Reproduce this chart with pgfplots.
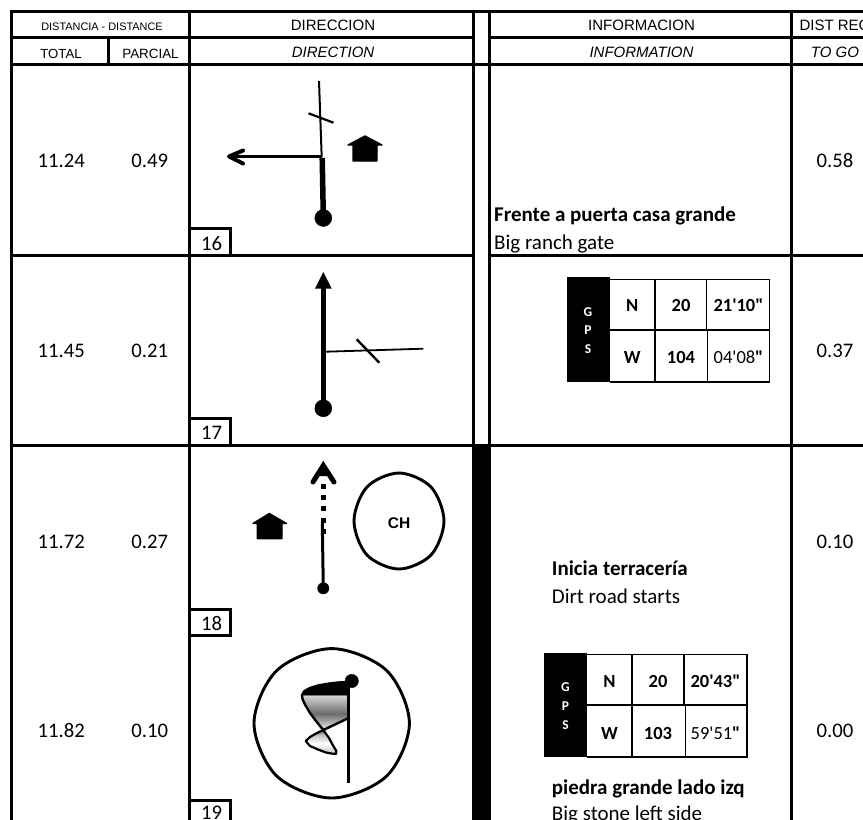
\documentclass[border=0pt]{standalone}
\usepackage{pgfplots}
\pgfplotsset{compat=1.18}
\usepackage{fontspec}
\setmainfont{Liberation Sans}
\newfontfamily\cb{Carlito}
\newcommand{\fs}[1]{\fontsize{#1}{#1}\selectfont}
\pgfdeclareverticalshading{flagA}{100bp}{
 color(0bp)=(white!94!black); color(25bp)=(white!94!black); color(42bp)=(black!58); color(61bp)=(white!84!black); color(62bp)=(black); color(100bp)=(black)}
\pgfdeclareverticalshading{flagB}{100bp}{
 color(0bp)=(black!25); color(25bp)=(black!25); color(47bp)=(white); color(65bp)=(black!25); color(75bp)=(black!65); color(100bp)=(black!65)}
\tikzset{
  gl/.style={line width=3pt},
  tbl/.style={line width=1.6pt},
  rdot/.style={only marks, mark=*, mark options={fill=black,draw=none}, mark size=#1pt},
  solidfill/.style={fill=black, draw=none},
  house/.style={fill=black, draw=black, line width=1.4pt, line join=round},
  cnum/.style={font=\cb\fs{20.7}, anchor=center, inner sep=0pt},
  hd/.style={font=\fs{15}, anchor=center, inner sep=0pt},
  hdi/.style={font=\itshape\fs{15}, anchor=center, inner sep=0pt},
  tx/.style={font=\cb\fs{21}, anchor=base west, inner sep=0pt},
  txb/.style={font=\cb\bfseries\fs{21}, anchor=base west, inner sep=0pt},
  gps/.style={font=\cb\bfseries\fs{18.5}, anchor=center, inner sep=0pt},
  gpr/.style={font=\cb\fs{18.5}, anchor=center, inner sep=0pt},
  gpl/.style={font=\cb\bfseries\fs{13.5}, text=white, anchor=center, inner sep=0pt},
}
\begin{document}
\begin{tikzpicture}
\useasboundingbox (0,0) rectangle (863pt,820pt);
\begin{axis}[
  at={(0,0)}, anchor=south west,
  scale only axis, width=863pt, height=820pt,
  xmin=0, xmax=863, ymin=0, ymax=820, y dir=reverse,
  hide axis, clip=true,
  every axis plot/.append style={black, no markers, line cap=butt},
]
% ---- black block
\addplot[solidfill] coordinates {(473,445) (490.5,445) (490.5,820) (473,820)} --cycle;
% ---- table frame
\addplot[gl] coordinates {(10,11.3) (863,11.3)};
\addplot[gl] coordinates {(10,37.5) (473,37.5)};
\addplot[gl] coordinates {(489,37.5) (863,37.5)};
\addplot[gl] coordinates {(10,64) (863,64)};
\addplot[gl] coordinates {(10,255.7) (473,255.7)};
\addplot[gl] coordinates {(489,255.7) (863,255.7)};
\addplot[gl] coordinates {(10,445.5) (863,445.5)};
\addplot[gl] coordinates {(11.3,10) (11.3,820)};
\addplot[gl] coordinates {(108.7,37.5) (108.7,64)};
\addplot[gl] coordinates {(189.7,10) (189.7,820)};
\addplot[gl] coordinates {(473.7,10) (473.7,820)};
\addplot[gl] coordinates {(489.3,10) (489.3,820)};
\addplot[gl] coordinates {(791.3,10) (791.3,820)};
% ---- step number boxes
\addplot[gl, line join=miter] coordinates {(189.7,228) (230.7,228) (230.7,255.7)};
\addplot[gl, line join=miter] coordinates {(189.7,418.5) (230.7,418.5) (230.7,445.5)};
\addplot[gl, line join=miter] coordinates {(189.7,609) (230.7,609) (230.7,635.5) (189.7,635.5)};
\addplot[gl, line join=miter] coordinates {(189.7,800) (230.7,800) (230.7,820)};
% ---- step 16
\addplot[line width=2pt] coordinates {(319,81) (321.7,157)};
\addplot[line width=2.2pt] coordinates {(308.5,113.3) (333.5,122.7)};
\addplot[line width=3.3pt] coordinates {(322,156.2) (231,156.2)};
\addplot[line width=4pt, line cap=round, line join=round] coordinates {(243,150.5) (229,156.5) (243,163.5)};
\addplot[line width=5.5pt] coordinates {(322.2,158) (323.3,215)};
\addplot[rdot=8.5] coordinates {(323.3,218)};
\addplot[house] coordinates {(365,136) (382,145) (377,145) (377,161) (353,161) (353,145) (348,145)} --cycle;
% ---- step 17
\addplot[line width=5.3pt] coordinates {(323.3,288) (323.3,405)};
\addplot[solidfill] coordinates {(323.3,272) (331.7,288.5) (315,288.5)} --cycle;
\addplot[rdot=8.5] coordinates {(323.3,408.3)};
\addplot[line width=1.8pt] coordinates {(326,351.7) (423.3,348.7)};
\addplot[line width=2.4pt] coordinates {(356.7,339.3) (379.3,362.7)};
% ---- step 18
\addplot[line width=5.5pt] coordinates {(323.3,483.5) (323.3,488.5)};
\addplot[line width=5.5pt] coordinates {(323.3,494.5) (323.3,500)};
\addplot[line width=5.5pt] coordinates {(323.3,506) (323.3,511)};
\addplot[line width=5.5pt] coordinates {(323.3,517.5) (323.3,522.5)};
\addplot[line width=5.5pt] coordinates {(323.3,528.5) (323.3,533.5)};
\addplot[line width=3pt] coordinates {(322.3,523) (323.3,588)};
\addplot[rdot=5.7] coordinates {(323.3,588.3)};
\addplot[line width=5pt, line cap=round, line join=miter] coordinates {(313,482) (323.3,465.5) (334,482)};
\addplot[solidfill] coordinates {(323.3,461.5) (330.5,476) (316,476)} --cycle;
\addplot[house] coordinates {(269.3,513.5) (286.5,523.5) (282,523.5) (282,538.6) (257.4,538.6) (257.4,523.5) (253,523.5)} --cycle;
\addplot[line width=2.9pt, smooth cycle, tension=.55] coordinates {(399,473) (431,487) (444,521) (431,555) (399,569) (367,555) (354,521) (367,487)};
% ---- step 19
\addplot[line width=2.9pt, smooth cycle, tension=.55] coordinates {(331.7,648.6) (386.6,670.5) (409.4,723.3) (386.6,776.1) (331.7,798) (276.8,776.1) (254,723.3) (276.8,670.5)};
\addplot[shading=flagA, draw=black, line width=2.4pt, line join=round] coordinates {(348.7,682) (338,682.5) (328,683.7) (318,685.5) (310,688) (304.5,691) (302,695) (302.5,699) (305,704.5) (310,713) (316,721) (323.3,730) (348.7,718)} --cycle;
\addplot[shading=flagB, draw=black, line width=2.2pt, line join=round] coordinates {(323.3,730) (329,738) (333.3,746) (336.4,751) (336,754) (331,753.5) (326,752.5) (318,749.5) (310,746) (305.7,741) (310,737) (316,733.5)} --cycle;
\addplot[line width=2.9pt] coordinates {(348.7,680) (348.7,782.7)};
\addplot[rdot=6.7] coordinates {(351.7,681)};
% ---- GPS block 1
\addplot[solidfill] coordinates {(566.7,277.3) (609.5,277.3) (609.5,381.5) (566.7,381.5)} --cycle;
\addplot[tbl, line join=miter] coordinates {(609.5,279.3) (769.3,279.3) (769.3,381.7) (609.5,381.7)};
\addplot[tbl] coordinates {(609.5,330) (769.3,330)};
\addplot[tbl] coordinates {(654.7,279.3) (654.7,381.7)};
\addplot[tbl] coordinates {(706.3,279.3) (706.3,330)};
\addplot[tbl] coordinates {(707.5,330) (707.5,381.7)};
% ---- GPS block 2
\addplot[solidfill] coordinates {(544,653.3) (586.7,653.3) (586.7,757) (544,757)} --cycle;
\addplot[tbl, line join=miter] coordinates {(586.7,654.5) (746.7,654.5) (746.7,756.7) (586.7,756.7)};
\addplot[tbl] coordinates {(586.7,705) (746.7,705)};
\addplot[tbl] coordinates {(632,654.5) (632,756.7)};
\addplot[tbl] coordinates {(684,654.5) (684,705)};
\addplot[tbl] coordinates {(685.3,705) (685.3,756.7)};
% ---- header text
\node[font=\fs{10.9}, anchor=center, inner sep=0pt] at (axis cs:102,26.7) {DISTANCIA - DISTANCE};
\node[font=\fs{13.2}, anchor=center, inner sep=0pt] at (axis cs:61,53.5) {TOTAL};
\node[font=\fs{13.4}, anchor=center, inner sep=0pt] at (axis cs:150.5,53.5) {PARCIAL};
\node[hd] at (axis cs:333,25.5) {DIRECCION};
\node[hdi] at (axis cs:333,52.5) {DIRECTION};
\node[hd] at (axis cs:641.5,25.5) {INFORMACION};
\node[hdi] at (axis cs:641.5,52.5) {INFORMATION};
\node[font=\fs{15}, anchor=west, inner sep=0pt] at (axis cs:799.3,25.5) {DIST REC};
\node[hdi] at (axis cs:835,52.5) {TO GO};
% ---- distances
\node[cnum] at (axis cs:61.3,160.5) {11.24};
\node[cnum] at (axis cs:149.7,160.5) {0.49};
\node[cnum] at (axis cs:835,160.5) {0.58};
\node[cnum] at (axis cs:61.3,350.5) {11.45};
\node[cnum] at (axis cs:149.7,350.5) {0.21};
\node[cnum] at (axis cs:835,350.5) {0.37};
\node[cnum] at (axis cs:61.3,541.5) {11.72};
\node[cnum] at (axis cs:149.7,541.5) {0.27};
\node[cnum] at (axis cs:835,541.5) {0.10};
\node[cnum] at (axis cs:61.3,730.5) {11.82};
\node[cnum] at (axis cs:149.7,730.5) {0.10};
\node[cnum] at (axis cs:835,730.5) {0.00};
% ---- step numbers
\node[cnum] at (axis cs:211.7,243.5) {16};
\node[cnum] at (axis cs:211.7,433) {17};
\node[cnum] at (axis cs:211.7,623.5) {18};
\node[cnum] at (axis cs:211.7,813) {19};
% ---- information
\node[txb] at (axis cs:494,221) {Frente a puerta casa grande};
\node[tx] at (axis cs:494,249) {Big ranch gate};
\node[txb] at (axis cs:551.7,575.5) {Inicia terracería};
\node[tx] at (axis cs:551.7,603) {Dirt road starts};
\node[txb] at (axis cs:551.7,794.5) {piedra grande lado izq};
\node[tx] at (axis cs:551.7,820.5) {Big stone left side};
\node[font=\bfseries\fs{15.5}, anchor=center, inner sep=0pt] at (axis cs:399,523) {CH};
% ---- GPS text 1
\node[gpl] at (axis cs:588,311.7) {G};
\node[gpl] at (axis cs:588,330.5) {P};
\node[gpl] at (axis cs:588,349.5) {S};
\node[gps] at (axis cs:632.3,305.5) {N};
\node[gps] at (axis cs:681,305.5) {20};
\node[gps] at (axis cs:738.5,305.5) {21'10"};
\node[gps] at (axis cs:632.3,357.5) {W};
\node[gps] at (axis cs:681,357.5) {104};
\node[gpr] at (axis cs:738.5,357.5) {04'08\textbf{"}};
% ---- GPS text 2
\node[gpl] at (axis cs:565.5,687) {G};
\node[gpl] at (axis cs:565.5,706) {P};
\node[gpl] at (axis cs:565.5,725) {S};
\node[gps] at (axis cs:609.5,681.5) {N};
\node[gps] at (axis cs:658,681.5) {20};
\node[gps] at (axis cs:715.5,681.5) {20'43"};
\node[gps] at (axis cs:609.5,733.5) {W};
\node[gps] at (axis cs:658,733.5) {103};
\node[gpr] at (axis cs:715.5,733.5) {59'51\textbf{"}};
\end{axis}
\end{tikzpicture}
\end{document}
